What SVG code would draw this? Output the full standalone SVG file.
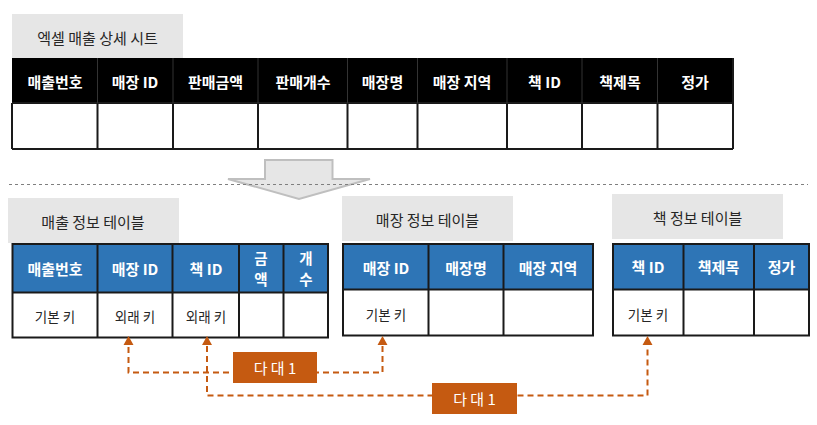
<svg xmlns="http://www.w3.org/2000/svg" width="817" height="425" viewBox="0 0 817 425">
<style>
text{font-family:"Malgun Gothic","Noto Sans CJK KR","Noto Sans",sans-serif;text-anchor:middle;dominant-baseline:central}
.title{fill:#E6E6E6}
.tt{font-size:15px;fill:#262626}
.hb{fill:#000}
.hblue{fill:#2E75B6}
.ht{font-size:15px;font-weight:bold;fill:#fff}
.hs{font-size:14.5px;font-weight:bold;fill:#fff}
.cell{fill:#fff}
.grid{fill:none;stroke:#1a1a1a;stroke-width:2}
.bt{font-size:13.5px;fill:#262626}
.conn{fill:none;stroke:#C55A11;stroke-width:2;stroke-dasharray:6,4}
.lab{fill:#C55A11}
.lt{font-size:15px;fill:#fff}
</style>
<defs>
<marker id="ah" viewBox="0 0 10 10" refX="10" refY="5" markerWidth="10" markerHeight="10" markerUnits="userSpaceOnUse" orient="auto">
<path d="M0,0 L10,5 L0,10 Z" fill="#C55A11"/>
</marker>
</defs>

<g id="excel-sheet">
<rect class="title" x="12" y="14" width="171" height="45"/>
<text class="tt" x="97.5" y="37">엑셀 매출 상세 시트</text>
<rect class="hb" x="12" y="58" width="721" height="45"/>
<rect class="cell" x="12" y="103" width="721" height="46"/>
<path class="grid" d="M12,103 H733 M12,149 H733 M12,103 V149 M97.5,103 V149 M173,103 V149 M258,103 V149 M347.5,103 V149 M417.5,103 V149 M507,103 V149 M582,103 V149 M657.5,103 V149 M733,58 V149"/>
<path d="M97.5,58 V103 M173,58 V103 M258,58 V103 M347.5,58 V103 M417.5,58 V103 M507,58 V103 M582,58 V103 M657.5,58 V103" stroke="#333" stroke-width="1"/>
<text class="ht" x="55" y="81">매출번호</text>
<text class="ht" x="135" y="81">매장 ID</text>
<text class="ht" x="215.5" y="81">판매금액</text>
<text class="ht" x="303" y="81">판매개수</text>
<text class="ht" x="382.5" y="81">매장명</text>
<text class="ht" x="462" y="81">매장 지역</text>
<text class="ht" x="544.5" y="81">책 ID</text>
<text class="ht" x="620" y="81">책제목</text>
<text class="ht" x="695" y="81">정가</text>
</g>

<g id="transform-arrow">
<path d="M265,160 H332.5 V179 H370 L299,199 L228,179 H265 Z" fill="#E6E6E6" stroke="#BFBFBF" stroke-width="2"/>
</g>
<path d="M9,184.5 H808" stroke="#7F7F7F" stroke-width="1" stroke-dasharray="3,3" fill="none"/>

<g id="sales-table">
<rect class="title" x="8" y="198" width="171" height="45"/>
<text class="tt" x="93" y="221">매출 정보 테이블</text>
<rect class="hblue" x="12.5" y="244" width="315.5" height="48.5"/>
<rect class="cell" x="12.5" y="292.5" width="315.5" height="45"/>
<path class="grid" d="M12.5,244 H328 V337.5 H12.5 Z M12.5,292.5 H328 M97.5,244 V337.5 M172.5,244 V337.5 M239,244 V337.5 M283.5,244 V337.5"/>
<text class="ht" x="55" y="268">매출번호</text>
<text class="ht" x="135" y="268">매장 ID</text>
<text class="ht" x="206" y="268">책 ID</text>
<text class="hs" x="261" y="257.5">금</text>
<text class="hs" x="261" y="278">액</text>
<text class="hs" x="306" y="257.5">개</text>
<text class="hs" x="306" y="278">수</text>
<text class="bt" x="55" y="316">기본 키</text>
<text class="bt" x="135" y="316">외래 키</text>
<text class="bt" x="206" y="316">외래 키</text>
</g>

<g id="store-table">
<rect class="title" x="342" y="196" width="171" height="45"/>
<text class="tt" x="427.5" y="219">매장 정보 테이블</text>
<rect class="hblue" x="343" y="244" width="250" height="45.5"/>
<rect class="cell" x="343" y="289.5" width="250" height="46"/>
<path class="grid" d="M343,244 H593 V335.5 H343 Z M343,289.5 H593 M428.5,244 V335.5 M503.5,244 V335.5"/>
<text class="ht" x="386" y="267">매장 ID</text>
<text class="ht" x="466" y="267">매장명</text>
<text class="ht" x="548" y="267">매장 지역</text>
<text class="bt" x="386" y="314">기본 키</text>
</g>

<g id="book-table">
<rect class="title" x="612" y="194" width="171" height="45"/>
<text class="tt" x="697.5" y="217">책 정보 테이블</text>
<rect class="hblue" x="613" y="244" width="196" height="45.5"/>
<rect class="cell" x="613" y="289.5" width="196" height="46"/>
<path class="grid" d="M613,244 H809 V335.5 H613 Z M613,289.5 H809 M683.5,244 V335.5 M754,244 V335.5"/>
<text class="ht" x="648" y="266">책 ID</text>
<text class="ht" x="718.5" y="266">책제목</text>
<text class="ht" x="781.5" y="266">정가</text>
<text class="bt" x="648" y="314">기본 키</text>
</g>

<g id="connectors">
<path class="conn" d="M382.5,346 V372.5 H128.5 V346"/>
<path d="M128.5,336 L133.5,345 H123.5 Z M382.5,336 L387.5,345 H377.5 Z M207,336 L212,345 H202 Z M647.5,336 L652.5,345 H642.5 Z" fill="#C55A11"/>
<path class="conn" d="M207,346 V395.5 H647.5 V346"/>
</g>

<g id="label-1">
<rect class="lab" x="233" y="352" width="84" height="31"/>
<text class="lt" x="275" y="367.5">다 대 1</text>
</g>
<g id="label-2">
<rect class="lab" x="432" y="383" width="85" height="31"/>
<text class="lt" x="474.5" y="398.5">다 대 1</text>
</g>
</svg>
